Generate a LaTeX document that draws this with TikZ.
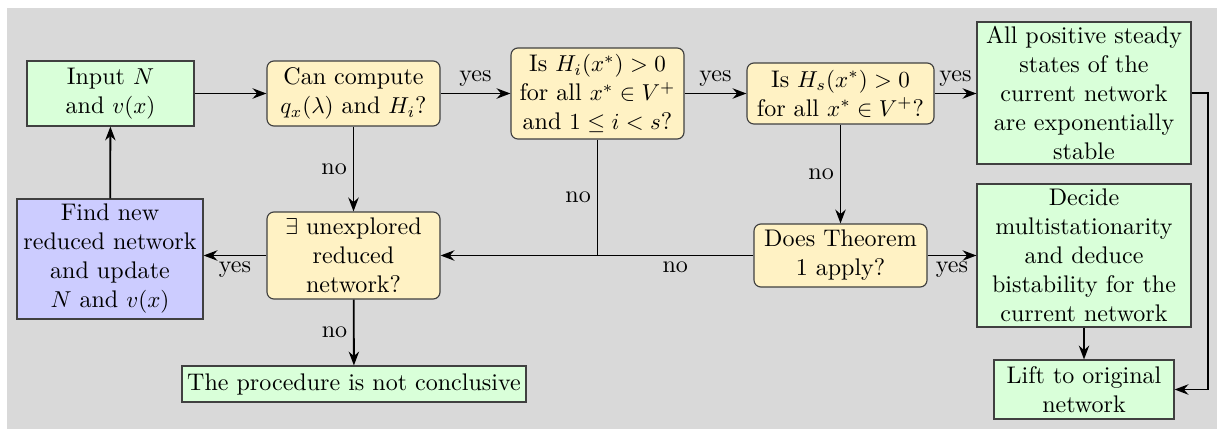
\documentclass[tikz,border=0pt]{standalone}
\usetikzlibrary{arrows.meta,calc}
\newdimen\px \px=0.4348pt
\definecolor{bggray}{RGB}{217,217,217}
\definecolor{boxgreen}{RGB}{217,255,217}
\definecolor{boxyellow}{RGB}{255,242,196}
\definecolor{boxblue}{RGB}{204,204,255}
\newcommand{\myfont}{\fontsize{10.45}{12.6}\selectfont}
\tikzset{
  base/.style={draw=black!75, line width=0.5pt, align=center, inner sep=0pt, font=\myfont},
  greenbox/.style={base, fill=boxgreen},
  bluebox/.style={base, fill=boxblue},
  decision/.style={base, fill=boxyellow, rounded corners=3pt},
  conn/.style={line width=0.8pt, -{Stealth[length=6pt,width=4.5pt]}},
  plain/.style={line width=0.8pt},
  lab/.style={font=\myfont, inner sep=2.5pt}
}
\begin{document}
\begin{tikzpicture}[x=0.4348pt,y=-0.4348pt]
\useasboundingbox (0,0) rectangle (1217,429);
\fill[bggray] (7,8) rectangle (1217,429);
\node[greenbox, minimum width=167\px, minimum height=65\px] (input) at (110.5,93.5) {Input $N$\\ and $v(x)$};
\node[decision, minimum width=173\px, minimum height=65\px] (can) at (353.5,93.5) {Can compute\\ $q_x(\lambda)$ and $H_i$?};
\node[decision, minimum width=173\px, minimum height=91\px] (hi) at (597.5,93.5) {Is $H_i(x^*)>0$\\ for all $x^*\in V^+$\\ and $1\leq i<s$?};
\node[decision, minimum width=187\px, minimum height=61\px] (hs) at (840.5,93.5) {Is $H_s(x^*)>0$\\ for all $x^*\in V^+$?};
\node[greenbox, minimum width=214\px, minimum height=142\px] (all) at (1084,93) {All positive steady\\ states of the\\ current network\\ are exponentially\\ stable};
\node[bluebox, minimum width=186\px, minimum height=120\px] (find) at (110,259) {Find new\\ reduced network\\ and update\\ $N$ and $v(x)$};
\node[decision, minimum width=173\px, minimum height=87\px] (unexp) at (353.5,255.5) {$\exists$ unexplored\\ reduced\\ network?};
\node[decision, minimum width=173\px, minimum height=63\px] (thm) at (840.5,255.5) {Does Theorem\\ 1 apply?};
\node[greenbox, minimum width=214\px, minimum height=143\px] (decide) at (1084,255.5) {Decide\\ multistationarity\\ and deduce\\ bistability for the\\ current network};
\node[greenbox, minimum width=344\px, minimum height=36\px] (proc) at (354,384) {The procedure is not conclusive};
\node[greenbox, minimum width=180\px, minimum height=59\px] (lift) at (1084,389.5) {Lift to original\\ network};

\draw[conn] (input) -- (can);
\draw[conn] (can) -- node[lab,above]{yes} (hi);
\draw[conn] (hi) -- node[lab,above]{yes} (hs);
\draw[conn] (hs) -- node[lab,above]{yes} (all.west |- hs.east);
\draw[conn] (can) -- node[lab,left]{no} (unexp);
\draw[conn] (hs) -- node[lab,left]{no} (thm);
\draw[plain] (hi.south) -- node[lab,left]{no} (hi.south |- thm.west);
\draw[conn] (thm.west) -- node[lab,below,pos=0.25]{no} (unexp.east);
\draw[conn] (thm.east) -- node[lab,below]{yes} (decide.west |- thm.east);
\draw[conn] (unexp.west) -- node[lab,below]{yes} (unexp.west -| find.east);
\draw[conn] (find) -- (input);
\draw[conn] (unexp) -- node[lab,left]{no} (proc);
\draw[conn] (decide) -- (lift);
\draw[conn] (all.east) -- ++(16,0) |- (lift.east);
\end{tikzpicture}
\end{document}
